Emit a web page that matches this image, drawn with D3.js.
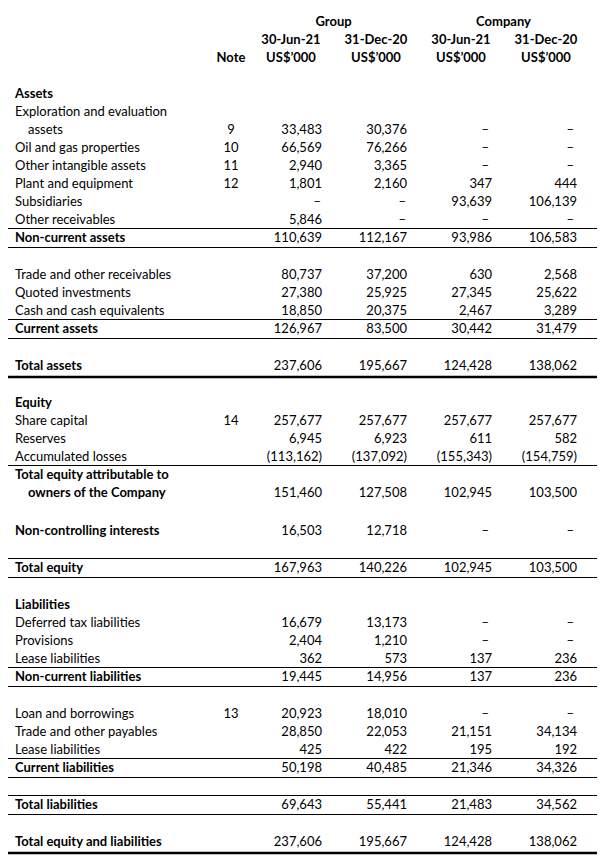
<!DOCTYPE html>
<html>
<head>
<meta charset="utf-8">
<style>
 body { margin: 0; background: #fff; }
 svg { font-family: Lato, "Open Sans", sans-serif; font-size: 13px; fill: #000; }
 .bold { font-weight: bold; }
</style>
</head>
<body>
<svg width="607" height="865"></svg>
<script src="https://d3js.org/d3.v7.min.js"></script>
<script>

// ---- data (null = empty cell, 0 = shown as a dash) ----
var labels = [
  "Assets", "Exploration and evaluation", "assets", "Oil and gas properties",
  "Other intangible assets", "Plant and equipment", "Subsidiaries", "Other receivables",
  "Non-current assets", "",
  "Trade and other receivables", "Quoted investments", "Cash and cash equivalents",
  "Current assets", "", "Total assets", "",
  "Equity", "Share capital", "Reserves", "Accumulated losses",
  "Total equity attributable to", "owners of the Company", "",
  "Non-controlling interests", "", "Total equity", "",
  "Liabilities", "Deferred tax liabilities", "Provisions", "Lease liabilities",
  "Non-current liabilities", "",
  "Loan and borrowings", "Trade and other payables", "Lease liabilities",
  "Current liabilities", "", "Total liabilities", "", "Total equity and liabilities"
];
var notes = [
  "", "", "9", "10", "11", "12", "", "", "", "",
  "", "", "", "", "", "", "",
  "", "14", "", "", "", "", "",
  "", "", "", "",
  "", "", "", "", "", "",
  "13", "", "", "", "", "", "", ""
];
var group2021 = [
  null, null, 33483, 66569, 2940, 1801, 0, 5846, 110639, null,
  80737, 27380, 18850, 126967, null, 237606, null,
  null, 257677, 6945, -113162, null, 151460, null,
  16503, null, 167963, null,
  null, 16679, 2404, 362, 19445, null,
  20923, 28850, 425, 50198, null, 69643, null, 237606
];
var group2020 = [
  null, null, 30376, 76266, 3365, 2160, 0, 0, 112167, null,
  37200, 25925, 20375, 83500, null, 195667, null,
  null, 257677, 6923, -137092, null, 127508, null,
  12718, null, 140226, null,
  null, 13173, 1210, 573, 14956, null,
  18010, 22053, 422, 40485, null, 55441, null, 195667
];
var company2021 = [
  null, null, 0, 0, 0, 347, 93639, 0, 93986, null,
  630, 27345, 2467, 30442, null, 124428, null,
  null, 257677, 611, -155343, null, 102945, null,
  0, null, 102945, null,
  null, 0, 0, 137, 137, null,
  0, 21151, 195, 21346, null, 21483, null, 124428
];
var company2020 = [
  null, null, 0, 0, 0, 444, 106139, 0, 106583, null,
  2568, 25622, 3289, 31479, null, 138062, null,
  null, 257677, 582, -154759, null, 103500, null,
  0, null, 103500, null,
  null, 0, 0, 236, 236, null,
  0, 34134, 192, 34326, null, 34562, null, 138062
];
var groups = ["Group", "Company"];
var dates = ["30-Jun-21", "31-Dec-20", "30-Jun-21", "31-Dec-20"];
var units = ["US$\u2019000", "US$\u2019000", "US$\u2019000", "US$\u2019000"];

// ---- row styling ----
var boldRows = ["Assets", "Non-current assets", "Current assets", "Total assets", "Equity",
  "Total equity attributable to", "owners of the Company", "Non-controlling interests",
  "Total equity", "Liabilities", "Non-current liabilities", "Current liabilities",
  "Total liabilities", "Total equity and liabilities"];
var indentRows = ["assets", "owners of the Company"];
var ruleAbove = ["Non-current assets", "Current assets", "Total equity attributable to",
  "Total equity", "Non-current liabilities", "Current liabilities", "Total liabilities"];
var ruleBelow = ["Non-current assets", "Current assets", "Total equity",
  "Non-current liabilities", "Current liabilities", "Total liabilities"];
var thickBelow = ["Total assets", "Total equity and liabilities"];

var svg = d3.select("svg");
var columns = [group2021, group2020, company2021, company2020];

// column positions: right edge of each value column
var xRight = d3.scaleLinear().domain([0, 3]).range([322, 577]);
var xNote = 231, xLabel = 15, xIndent = 28;
var ruleX = [8, 597];

// header rows
var yHead = d3.scaleLinear().domain([0, 2]).range([21, 57]);

// body rows: data rows 18px, blank rows 19px
var rowY = [];
var acc = 0;
labels.forEach(function(l, i){
    rowY.push(acc);
    acc += l === "" ? 19 : 18.05;
});
var y = d3.scaleLinear().domain([0, 1]).range([93, 94]);

var fmt = d3.format(",");
function cell(v){
    if(v === null) return "";
    if(v === 0) return "\u2013";
    if(v < 0) return "(" + fmt(-v) + ")";
    return fmt(v);
}

// header
var head = svg.append("g").attr("class", "bold");
groups.forEach(function(g, i){
    head.append("text")
        .attr("x", (xRight(i * 2) + xRight(i * 2 + 1)) / 2 - 31)
        .attr("y", yHead(0) + 4.5)
        .attr("text-anchor", "middle")
        .text(g);
});
dates.forEach(function(d, i){
    head.append("text")
        .attr("x", xRight(i) - 31)
        .attr("y", yHead(1) + 4.5)
        .attr("text-anchor", "middle")
        .text(d);
    head.append("text")
        .attr("x", xRight(i) - 31)
        .attr("y", yHead(2) + 4.5)
        .attr("text-anchor", "middle")
        .text(units[i]);
});
head.append("text")
    .attr("x", xNote)
    .attr("y", yHead(2) + 4.5)
    .attr("text-anchor", "middle")
    .text("Note");

// body
var rows = svg.append("g").selectAll("g")
    .data(labels.map(function(l, i){ return {label: l, i: i}; }).filter(function(d){ return d.label !== ""; }))
    .enter().append("g")
    .attr("class", function(d){ return boldRows.indexOf(d.label) >= 0 ? "bold" : null; })
    .attr("transform", function(d){ return "translate(0," + y(rowY[d.i]) + ")"; });

rows.append("text")
    .attr("x", function(d){ return indentRows.indexOf(d.label) >= 0 ? xIndent : xLabel; })
    .attr("y", 4.5)
    .text(function(d){ return d.label; });

rows.append("text")
    .attr("x", xNote)
    .attr("y", 4.5)
    .attr("text-anchor", "middle")
    .style("font-weight", "normal")
    .text(function(d){ return notes[d.i]; });

columns.forEach(function(col, c){
    rows.append("text")
        .attr("x", function(d){ return xRight(c) - (col[d.i] === 0 ? (c > 1 ? 3 : 1) : 0); })
        .attr("y", 4.5)
        .attr("text-anchor", "end")
        .style("font-weight", "normal")
        .text(function(d){ return cell(col[d.i]); });
});

// rules
var rules = svg.append("g").attr("stroke", "#000");
labels.forEach(function(l, i){
    var yc = y(rowY[i]);
    if(ruleAbove.indexOf(l) >= 0){
        rules.append("line").attr("x1", ruleX[0]).attr("x2", ruleX[1])
            .attr("y1", Math.round(yc - 9.5) + 0.5).attr("y2", Math.round(yc - 9.5) + 0.5)
            .attr("stroke-width", 1);
    }
    if(ruleBelow.indexOf(l) >= 0){
        rules.append("line").attr("x1", ruleX[0]).attr("x2", ruleX[1])
            .attr("y1", Math.round(yc + 9.5) + 0.5).attr("y2", Math.round(yc + 9.5) + 0.5)
            .attr("stroke-width", 1);
    }
    if(thickBelow.indexOf(l) >= 0){
        rules.append("line").attr("x1", ruleX[0]).attr("x2", ruleX[1])
            .attr("y1", Math.round(yc + 11)).attr("y2", Math.round(yc + 11))
            .attr("stroke-width", 2.5);
    }
});
</script>
</body>
</html>
